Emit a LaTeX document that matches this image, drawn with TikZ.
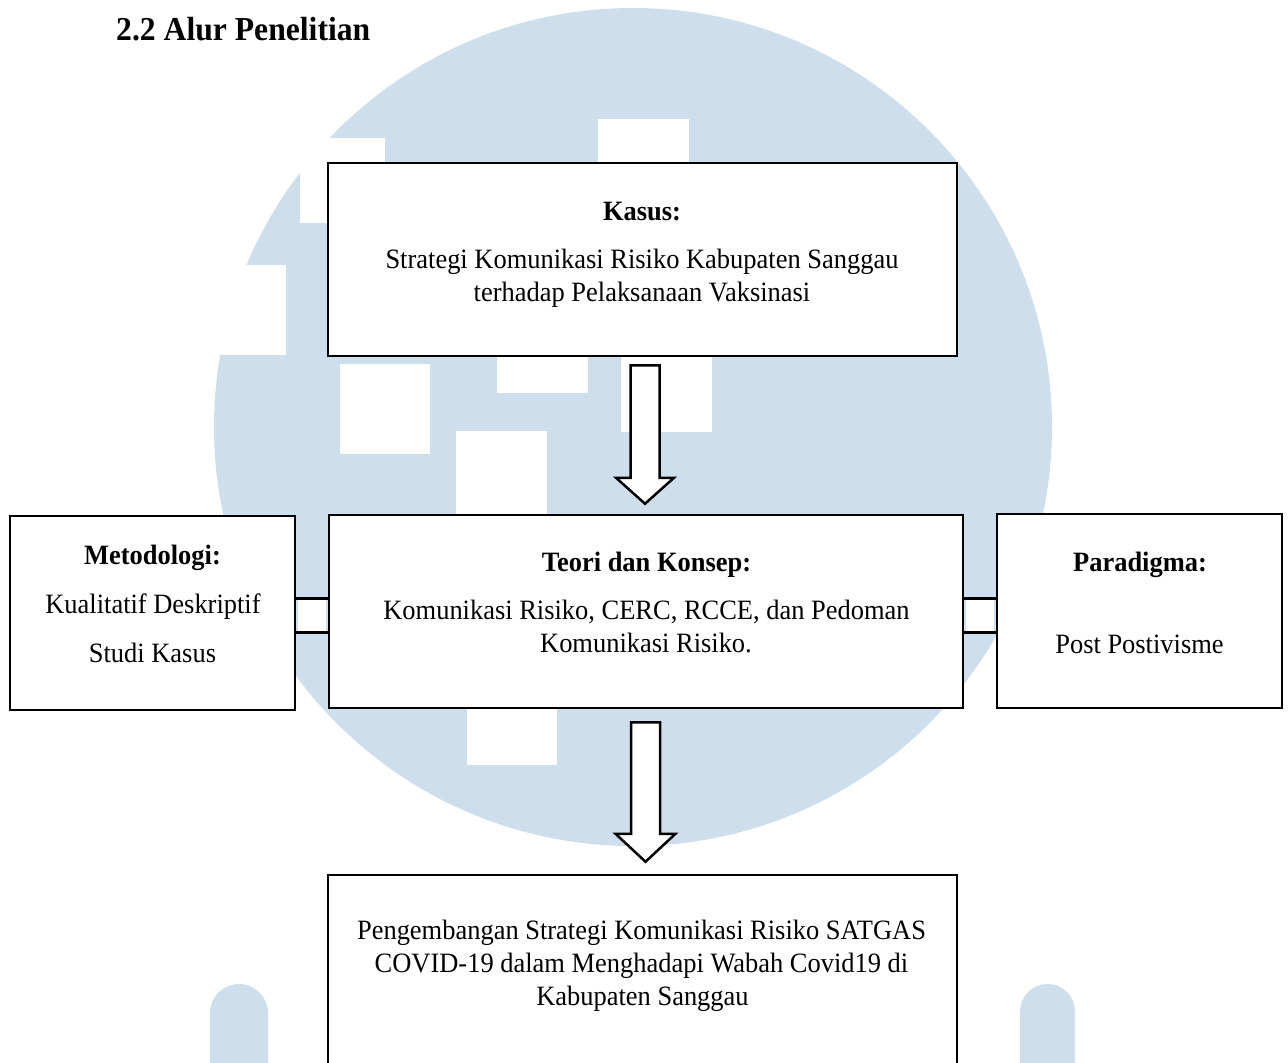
\documentclass[tikz,border=0pt]{standalone}
\usepackage{fontspec}
\setmainfont{Liberation Serif}[FakeStretch=0.945]
\usetikzlibrary{calc}
\definecolor{wmblue}{HTML}{CEDEED}
\tikzset{
  box/.style={draw=black, line width=2.5pt, fill=white, rectangle, inner sep=0pt},
  txt/.style={anchor=base, inner sep=0pt, font=\fontsize{28}{33}\selectfont},
  btxt/.style={txt, font=\fontsize{28}{33}\selectfont\bfseries},
  blockarrow/.style={draw=black, line width=2.5pt, fill=white, line join=miter},
  connline/.style={draw=black, line width=3pt},
  wm/.style={fill=wmblue},
  cut/.style={fill=white}
}
\begin{document}
\begin{tikzpicture}[x=1pt, y=-1pt]
\useasboundingbox (0,0) rectangle (1288,1063);
% watermark
\fill[wm] (633,427) circle[radius=419pt];
\fill[cut] (300,138) rectangle (385,223);
\fill[cut] (200,265) rectangle (286,355);
\fill[cut] (340,364) rectangle (430,454);
\fill[cut] (497,340) rectangle (588,393);
\fill[cut] (621,340) rectangle (712,432);
\fill[cut] (456,431) rectangle (547,520);
\fill[cut] (598,119) rectangle (689,170);
\fill[cut] (467,700) rectangle (557,765);
\fill[wm] (210,1100) -- (210,1013) arc[start angle=180, end angle=0, radius=29pt] -- (268,1100) -- cycle;
\fill[wm] (1020,1100) -- (1020,1011.5) arc[start angle=180, end angle=0, radius=27.5pt] -- (1075,1100) -- cycle;

% title
\node[anchor=base west, inner sep=0pt, font=\fontsize{33.5}{40}\selectfont\bfseries] (title) at (116,40) {2.2 Alur Penelitian};

% boxes
\node[box, minimum width=629pt, minimum height=193pt] (kasus) at (642.5,259.5) {};
\node[box, minimum width=634pt, minimum height=193pt] (teori) at (646,611.5) {};
\node[box, minimum width=285pt, minimum height=194pt] (met) at (152.5,613) {};
\node[box, minimum width=285pt, minimum height=194pt] (par) at (1139.5,611) {};
\node[box, minimum width=629pt, minimum height=260pt] (hasil) at (642.5,1005) {};

% connector bars
\coordinate (bt) at (0,598);
\coordinate (bb) at (0,632);
\fill[white] ($(met.east|-bt)+(1.3,0)$) rectangle ($(teori.west|-bb)+(-1.3,0)$);
\draw[connline] (met.east|-bt) -- (teori.west|-bt) (met.east|-bb) -- (teori.west|-bb);
\fill[white] ($(teori.east|-bt)+(1.3,0)$) rectangle ($(par.west|-bb)+(-1.3,0)$);
\draw[connline] (teori.east|-bt) -- (par.west|-bt) (teori.east|-bb) -- (par.west|-bb);

% block arrows
\coordinate (a1s) at ($(kasus.south)+(2.5,8)$);
\coordinate (a1e) at ($(teori.north)+(-1,-10)$);
\draw[blockarrow] ($(a1s)+(-14.5,0)$) -- ($(a1s)+(14.5,0)$) -- ($(a1e|-a1e)+(14.5,-26)$) -- ($(a1e)+(29,-26)$) -- (a1e) -- ($(a1e)+(-29,-26)$) -- ($(a1e)+(-14.5,-26)$) -- cycle;
\coordinate (a2s) at ($(teori.south)+(-0.5,13)$);
\coordinate (a2e) at ($(hasil.north)+(3,-12)$);
\draw[blockarrow] ($(a2s)+(-14.5,0)$) -- ($(a2s)+(14.5,0)$) -- ($(a2e)+(14.5,-28)$) -- ($(a2e)+(30,-28)$) -- (a2e) -- ($(a2e)+(-30,-28)$) -- ($(a2e)+(-14.5,-28)$) -- cycle;

% texts
\node[btxt] (k1) at (642,220) {Kasus:};
\node[txt] (k2) at (642,268) {Strategi Komunikasi Risiko Kabupaten Sanggau};
\node[txt] (k3) at (642,301) {terhadap Pelaksanaan Vaksinasi};

\node[btxt] (t1) at (646.5,571) {Teori dan Konsep:};
\node[txt] (t2) at (646.5,619) {Komunikasi Risiko, CERC, RCCE, dan Pedoman};
\node[txt] (t3) at (646,652) {Komunikasi Risiko.};

\node[btxt] (m1) at (152.5,564) {Metodologi:};
\node[txt] (m2) at (153,613) {Kualitatif Deskriptif};
\node[txt] (m3) at (152.5,662) {Studi Kasus};

\node[btxt] (p1) at (1140,571) {Paradigma:};
\node[txt] (p2) at (1139.5,653) {Post Postivisme};

\node[txt] (h1) at (641.5,939) {Pengembangan Strategi Komunikasi Risiko SATGAS};
\node[txt] (h2) at (641.5,972) {COVID-19 dalam Menghadapi Wabah Covid19 di};
\node[txt] (h3) at (642.5,1005) {Kabupaten Sanggau};
\end{tikzpicture}
\end{document}
